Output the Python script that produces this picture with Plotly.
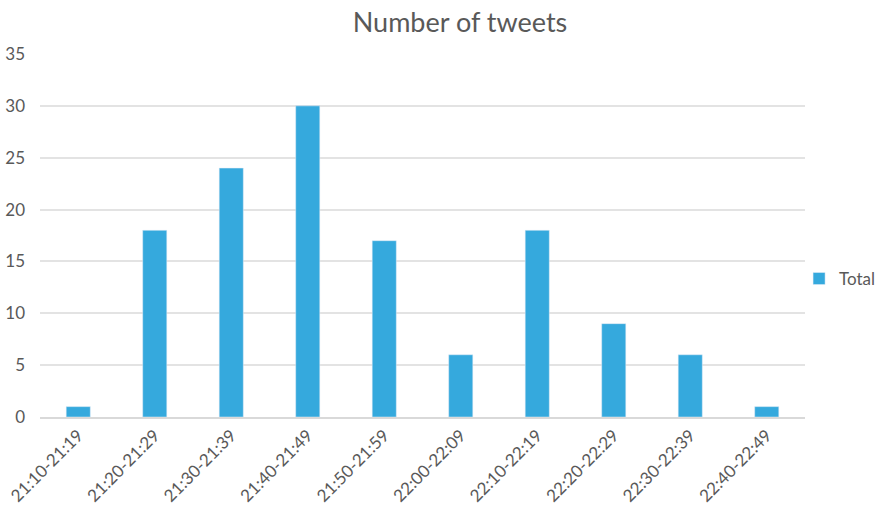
import plotly.graph_objects as go

categories = ["21:10-21:19", "21:20-21:29", "21:30-21:39", "21:40-21:49", "21:50-21:59",
              "22:00-22:09", "22:10-22:19", "22:20-22:29", "22:30-22:39", "22:40-22:49"]
totals = [1, 18, 24, 30, 17, 6, 18, 9, 6, 1]

fig = go.Figure()
fig.add_trace(go.Bar(x=categories, y=totals, name="Total", marker_color="#35A9DD",
                     showlegend=True))

fig.update_layout(
    width=881, height=510,
    margin=dict(l=40, r=76, t=54, b=93, autoexpand=False),
    paper_bgcolor="white", plot_bgcolor="white",
    font=dict(family="Lato, Open Sans, sans-serif", color="#595959", size=17),
    title=dict(text="Number of tweets", x=0.549, xref="paper", xanchor="center",
               y=0.955, yanchor="middle", font=dict(size=27, color="#595959")),
    bargap=0.685,
    showlegend=True,
    legend=dict(x=0.907, y=0.453, xref="container", yref="container",
                xanchor="left", yanchor="middle", itemwidth=30,
                font=dict(size=17, color="#595959"), bgcolor="rgba(0,0,0,0)"),
    xaxis=dict(tickangle=-45, showgrid=False, showline=True, linecolor="#d9d9d9",
               linewidth=1.5, ticks="", tickfont=dict(size=17)),
    yaxis=dict(range=[0, 35], dtick=5, showgrid=True, gridcolor="#e3e3e3", gridwidth=1.5,
               zeroline=False, ticks="", ticklabelstandoff=14, tickfont=dict(size=17)),
)

fig.write_html("out.html")
